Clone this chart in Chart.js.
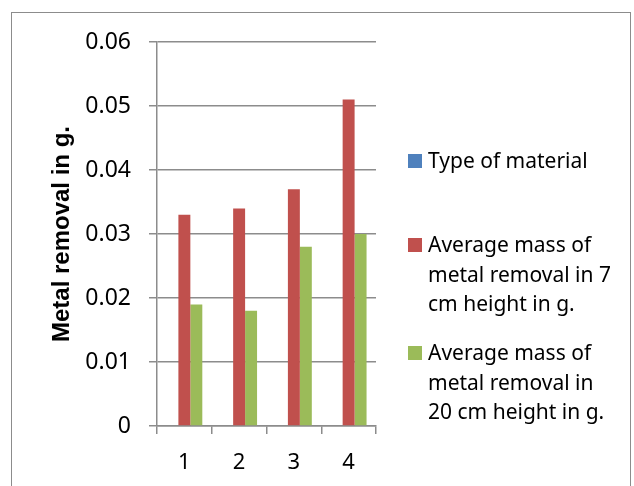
<!DOCTYPE html>
<html>
<head>
<meta charset="utf-8">
<script src="https://cdn.jsdelivr.net/npm/chart.js@4"></script>
<style>
  body { margin: 0; background: #fff; }
  #wrap { position: relative; width: 634px; height: 486px; overflow: hidden; background: #fff; }
  #frame { position: absolute; left: 11px; top: 12px; width: 620px; height: 500px; border: 1.5px solid #8c8c8c; box-sizing: border-box; }
  canvas { position: absolute; left: 0; top: 0; }
  .item { position: absolute; left: 408px; font-family: "Noto Sans", sans-serif; font-size: 21px; line-height: 29.5px; color: #000; white-space: nowrap; }
  .item .box { position: absolute; left: 0; top: 7.5px; width: 14px; height: 14px; }
  .item .txt { margin-left: 20px; }
</style>
</head>
<body>
<div id="wrap">
  <div id="frame"></div>
  <canvas id="myChart" width="634" height="486"></canvas>
  <div id="legend"></div>
</div>
<script>
'use strict';
const categories = ['1', '2', '3', '4'];
const materialType = [0, 0, 0, 0];
const mass7cm = [0.033, 0.034, 0.037, 0.051];
const mass20cm = [0.019, 0.018, 0.028, 0.030];
const yTicks = [0, 0.01, 0.02, 0.03, 0.04, 0.05, 0.06];

const seriesNames = [
  ['Type of material'],
  ['Average mass of', 'metal removal in 7', 'cm height in g.'],
  ['Average mass of', 'metal removal in', '20 cm height in g.']
];
const seriesColors = ['#4F81BD', '#C0504D', '#9BBB59'];
const legendTops = [146, 230, 338];

const gridColor = '#8c8c8c';

const ctx = document.getElementById('myChart').getContext('2d');
const chart = new Chart(ctx, {
  type: 'bar',
  data: {
    labels: categories,
    datasets: [materialType, mass7cm, mass20cm].map(function (vals, i) {
      return {
        label: seriesNames[i].join(' '),
        data: vals,
        backgroundColor: seriesColors[i],
        borderWidth: 0,
        categoryPercentage: 0.655,
        barPercentage: 1
      };
    })
  },
  options: {
    responsive: false,
    animation: false,
    layout: { padding: { left: 0, right: 258, top: 42, bottom: 0 } },
    plugins: { legend: { display: false }, tooltip: { enabled: false } },
    scales: {
      x: {
        grid: { display: true, drawOnChartArea: false, drawTicks: true, tickLength: 8, color: gridColor, lineWidth: 1.5, offset: true },
        border: { display: true, color: gridColor, width: 1.5 },
        ticks: { color: '#000', padding: 16, font: { family: 'Noto Sans', size: 22 } },
        afterFit: function (scale) { scale.height = 60; }
      },
      y: {
        min: 0,
        max: 0.06,
        afterBuildTicks: function (scale) {
          scale.ticks = yTicks.map(function (v) { return { value: v }; });
        },
        grid: { color: gridColor, lineWidth: 1.5, tickLength: 8 },
        border: { display: true, color: gridColor, width: 1.5 },
        ticks: {
          color: '#000',
          padding: 18,
          font: { family: 'Noto Sans', size: 23 },
          callback: function (v) { return v === 0 ? '0' : v.toFixed(2); }
        },
        title: {
          display: true,
          text: 'Metal removal in g.',
          color: '#000',
          padding: { top: 48, bottom: 0 },
          font: { family: 'Liberation Sans', size: 24, weight: 'bold' }
        },
        afterFit: function (scale) { scale.width = 157; }
      }
    }
  }
});

// legend on the right, wrapped the same way as the picture
const $legend = document.getElementById('legend');
seriesNames.forEach(function (lines, i) {
  const item = document.createElement('div');
  item.className = 'item';
  item.style.top = legendTops[i] + 'px';
  const box = document.createElement('span');
  box.className = 'box';
  box.style.background = seriesColors[i];
  const txt = document.createElement('div');
  txt.className = 'txt';
  txt.innerHTML = lines.join('<br>');
  item.appendChild(box);
  item.appendChild(txt);
  $legend.appendChild(item);
});
</script>
</body>
</html>
